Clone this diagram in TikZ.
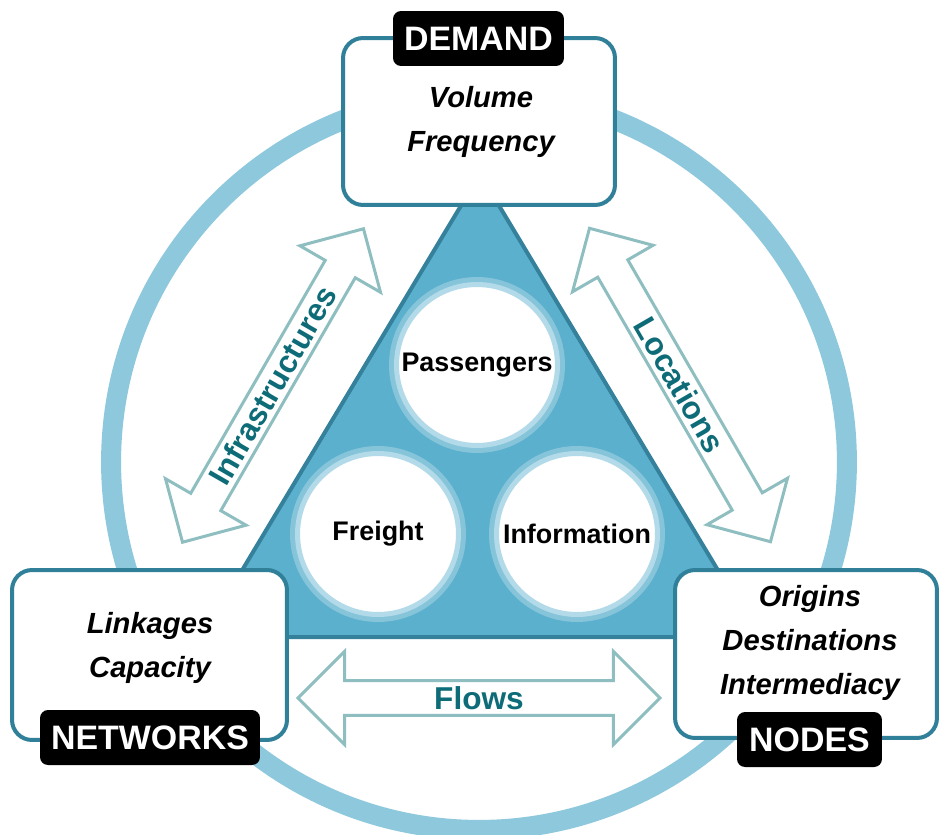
\documentclass[tikz,border=0pt]{standalone}
\usepackage{fontspec}
\setmainfont{Liberation Sans}
\usetikzlibrary{shapes.arrows}
\definecolor{ringblue}{HTML}{8EC8DC}
\definecolor{boxteal}{HTML}{31809A}
\definecolor{trifill}{HTML}{5BB0CE}
\definecolor{triedge}{HTML}{35819B}
\definecolor{haloin}{HTML}{B2DAE8}
\definecolor{haloout}{HTML}{86C4DA}
\definecolor{arrowedge}{HTML}{8EBEC0}
\definecolor{arrowtext}{HTML}{0E6C78}

\begin{document}
\begin{tikzpicture}[x=0.02cm, y=-0.02cm,
	box/.style={draw=boxteal, fill=white, line width=0.08cm, rounded corners=0.4cm},
	tag/.style={fill=black, text=white, rounded corners=0.16cm, minimum height=1.1cm, inner sep=0pt, font=\fontsize{19.3}{20}\selectfont\bfseries},
	itext/.style={align=center, font=\fontsize{16.6}{25}\selectfont\bfseries\itshape},
	ball/.style={circle, fill=white, draw=haloin, line width=0.1cm, minimum size=3.22cm, inner sep=0pt, preaction={draw=haloout, line width=0.3cm}, font=\fontsize{15.3}{16}\selectfont\bfseries},
	flow/.style={double arrow, draw=arrowedge, fill=white, line width=0.06cm, minimum height=7.24cm, minimum width=1.86cm, double arrow head extend=0.44cm, inner sep=0pt, text=arrowtext, font=\fontsize{18}{19}\selectfont\bfseries}]
	\useasboundingbox (0,0) rectangle (940,835);
	\draw [ringblue, line width=0.4cm] (479,462) circle (7.36cm);
	\draw [fill=trifill, draw=triedge, line width=0.08cm] (480,174) -- (758,637) -- (202,637) -- cycle;
	
	\node [ball] (passengers) at (477,365) {Passengers};
	\node [ball] (freight) at (378,534) {Freight};
	\node [ball] (information) at (577,534) {Information};
	
	\node [box, minimum width=5.44cm, minimum height=3.34cm] (demand) at (479,121.5) {};
	\node [box, minimum width=5.5cm, minimum height=3.4cm] (networks) at (149.5,655) {};
	\node [box, minimum width=5.24cm, minimum height=3.36cm] (nodes) at (806,654) {};
	
	\node [itext] (demandtxt) at (481,122) {Volume\\Frequency};
	\node [itext] (networkstxt) at (150,648) {Linkages\\Capacity};
	\node [itext] (nodestxt) at (810,643) {Origins\\Destinations\\Intermediacy};
	
	\node [tag, minimum width=3.42cm] (demandtag) at (478.5,38.5) {DEMAND};
	\node [tag, minimum width=4.4cm] (networkstag) at (150,737.5) {NETWORKS};
	\node [tag, minimum width=2.9cm] (nodestag) at (809.5,739.5) {NODES};
	
	\node [flow, rotate=60] (infra) at (273,385.5) {Infrastructures};
	\node [flow, rotate=-60] (locations) at (680,385) {Locations};
	\node [flow] (flows) at (479,698) {Flows};
\end{tikzpicture}
\end{document}
